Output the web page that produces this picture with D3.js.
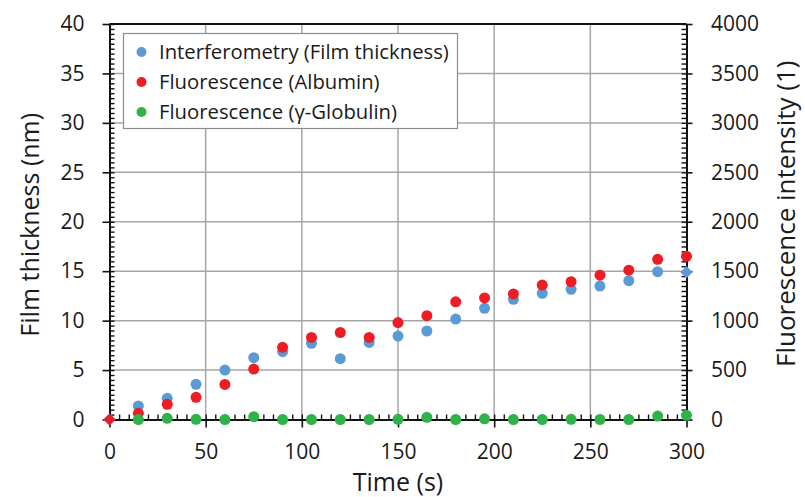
<!DOCTYPE html>
<html>
<head>
<meta charset="utf-8">
<script src="https://cdn.jsdelivr.net/npm/d3@7"></script>
<style>
  html, body { margin: 0; padding: 0; background: #fff; }
  svg { display: block; }
  text { font-family: "Open Sans", sans-serif; fill: #1a1a1a; }
</style>
</head>
<body>
<svg id="chart" width="805" height="497"></svg>
<script>
// ---- data ----
const times = [0, 15, 30, 45, 60, 75, 90, 105, 120, 135, 150, 165, 180, 195, 210, 225, 240, 255, 270, 285, 300];
const filmThickness = [0, 1.37, 2.14, 3.56, 5.0, 6.25, 6.86, 7.7, 6.15, 7.8, 8.44, 8.95, 10.16, 11.25, 12.15, 12.76, 13.17, 13.5, 14.04, 14.95, 14.9];
const fluorAlbumin = [0, 63, 153, 224, 355, 510, 730, 830, 880, 830, 980, 1050, 1190, 1230, 1270, 1360, 1394, 1460, 1510, 1620, 1650];
const fluorGlobulin = [null, 0, 12, 2, 0, 28, 0, 0, 0, 0, 2, 22, 0, 7, 0, 0, 2, 0, 0, 35, 42];
const seriesNames = ["Interferometry (Film thickness)", "Fluorescence (Albumin)", "Fluorescence (\u03b3-Globulin)"];
const seriesColors = ["#5b9bd5", "#ee1c25", "#2fb24a"];
const xTicks = [0, 50, 100, 150, 200, 250, 300];
const yLeftTicks = [0, 5, 10, 15, 20, 25, 30, 35, 40];
const yRightTicks = [0, 500, 1000, 1500, 2000, 2500, 3000, 3500, 4000];
const xTitle = "Time (s)";
const yLeftTitle = "Film thickness (nm)";
const yRightTitle = "Fluorescence intensity (1)";

// ---- layout ----
const L = 109.5, R = 686.5, T = 24, B = 419.5;
const svg = d3.select("#chart");

const x = d3.scaleLinear().domain([0, 300]).range([L, R]);
const yL = d3.scaleLinear().domain([0, 40]).range([B, T]);
const yR = d3.scaleLinear().domain([0, 4000]).range([B, T]);

// grid
const grid = svg.append("g").attr("stroke", "#a6a6a6").attr("stroke-width", 1.5);
grid.selectAll("line.h").data(yLeftTicks.slice(1, -1)).enter().append("line")
  .attr("x1", L).attr("x2", R).attr("y1", d => yL(d)).attr("y2", d => yL(d));
grid.selectAll("line.v").data(xTicks.slice(1, -1)).enter().append("line")
  .attr("y1", T).attr("y2", B).attr("x1", d => x(d)).attr("x2", d => x(d));

// top border
svg.append("line").attr("x1", L).attr("x2", R).attr("y1", T).attr("y2", T)
  .attr("stroke", "#111").attr("stroke-width", 2);

function styleAxis(g, fontSize) {
  g.select(".domain").attr("stroke", "#111").attr("stroke-width", 2);
  g.selectAll(".tick line").attr("stroke", "#111").attr("stroke-width", 1.6);
  g.selectAll("text").attr("font-size", fontSize).attr("font-family", "Open Sans, sans-serif").attr("fill", "#1a1a1a");
}

// left axis: minor inside
const lMinor = svg.append("g").attr("transform", `translate(${L},0)`)
  .call(d3.axisRight(yL).tickValues(d3.range(0, 40.001, 0.5)).tickSize(5).tickFormat(""));
lMinor.select(".domain").remove();
lMinor.selectAll(".tick line").attr("stroke", "#111").attr("stroke-width", 1.4);
const lAxis = svg.append("g").attr("transform", `translate(${L},0)`)
  .call(d3.axisLeft(yL).tickValues(yLeftTicks).tickSizeInner(7).tickSizeOuter(0).tickPadding(18));
styleAxis(lAxis, 21);

// right axis
const rMinor = svg.append("g").attr("transform", `translate(${R},0)`)
  .call(d3.axisLeft(yR).tickValues(d3.range(0, 4000.1, 50)).tickSize(5).tickFormat(""));
rMinor.select(".domain").remove();
rMinor.selectAll(".tick line").attr("stroke", "#111").attr("stroke-width", 1.4);
const rAxis = svg.append("g").attr("transform", `translate(${R},0)`)
  .call(d3.axisRight(yR).tickValues(yRightTicks).tickFormat(d3.format("d"))
    .tickSizeInner(6).tickSizeOuter(0).tickPadding(18.5));
styleAxis(rAxis, 21);

// bottom axis
const bMinor = svg.append("g").attr("transform", `translate(0,${B})`)
  .call(d3.axisTop(x).tickValues(d3.range(0, 300.1, 5)).tickSize(5).tickFormat(""));
bMinor.select(".domain").remove();
bMinor.selectAll(".tick line").attr("stroke", "#111").attr("stroke-width", 1.4);
const bAxis = svg.append("g").attr("transform", `translate(0,${B})`)
  .call(d3.axisBottom(x).tickValues(xTicks).tickSizeInner(8).tickSizeOuter(0).tickPadding(16.5));
styleAxis(bAxis, 21);

// titles
svg.append("text").attr("x", (L + R) / 2).attr("y", 491).attr("text-anchor", "middle")
  .attr("font-size", 25).text(xTitle);
svg.append("text").attr("transform", `translate(39,${(T + B) / 2 + 3}) rotate(-90)`)
  .attr("text-anchor", "middle").attr("font-size", 25).text(yLeftTitle);
svg.append("text").attr("transform", `translate(795,${(T + B) / 2 - 8}) rotate(-90)`)
  .attr("text-anchor", "middle").attr("font-size", 26).text(yRightTitle);

// points
const r = 5.5;
const diamond = d3.symbol().type(d3.symbolDiamond2).size(95);
function drawSeries(values, yScale, color, diamondIdx) {
  const g = svg.append("g");
  values.forEach((v, i) => {
    if (v === null) return;
    if (diamondIdx.includes(i)) {
      g.append("path").attr("d", diamond)
        .attr("transform", `translate(${x(times[i])},${yScale(v)})`).attr("fill", color);
    } else {
      g.append("circle").attr("cx", x(times[i])).attr("cy", yScale(v)).attr("r", r).attr("fill", color);
    }
  });
}
drawSeries(filmThickness, yL, seriesColors[0], [0, 20]);
drawSeries(fluorAlbumin, yR, seriesColors[1], [0]);
drawSeries(fluorGlobulin, yR, seriesColors[2], []);

// legend
const lg = svg.append("g");
lg.append("rect").attr("x", 123.5).attr("y", 33.5).attr("width", 334).attr("height", 95)
  .attr("fill", "#fff").attr("stroke", "#8c8c8c").attr("stroke-width", 1.2);
seriesNames.forEach((name, i) => {
  const cy = 52 + i * 30;
  lg.append("circle").attr("cx", 141.5).attr("cy", cy).attr("r", 5).attr("fill", seriesColors[i]);
  lg.append("text").attr("x", 159).attr("y", cy).attr("dy", "0.36em").attr("font-size", 20.3).text(name);
});
</script>
</body>
</html>
